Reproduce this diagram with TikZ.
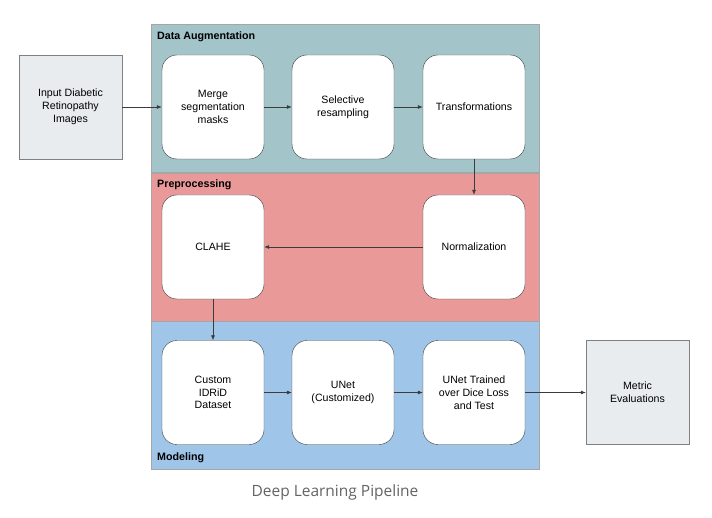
\documentclass[tikz,border=0pt]{standalone}
\usepackage{fontspec}
\setmainfont{Liberation Sans}
\newfontfamily\captionfont{Open Sans}
\usetikzlibrary{
  arrows.meta,
  positioning
}
\definecolor{augcol}{RGB}{163,196,201}
\definecolor{precol}{RGB}{234,153,153}
\definecolor{modcol}{RGB}{159,197,232}
\definecolor{iocol}{RGB}{232,236,238}
\definecolor{edgecol}{RGB}{60,60,60}
\definecolor{capcol}{RGB}{100,100,100}

\begin{document}
\begin{tikzpicture}[
  x=1pt, y=-1pt,
  band/.style={
    draw=gray!70,
    line width=0.8pt,
    rectangle,
    minimum width=388pt,
    minimum height=148pt,
    inner sep=0pt
  },
  bandlabel/.style={
    font=\fontsize{10.7}{12}\selectfont\bfseries,
    inner sep=0pt
  },
  stage/.style={
    draw=edgecol,
    fill=white,
    rectangle,
    rounded corners=15pt,
    minimum width=102pt,
    minimum height=104pt,
    align=center,
    font=\fontsize{10.6}{12.8}\selectfont,
    inner sep=0pt
  },
  io/.style={
    draw=gray,
    fill=iocol,
    rectangle,
    minimum width=103pt,
    minimum height=104pt,
    align=center,
    font=\fontsize{10.6}{12.8}\selectfont,
    inner sep=0pt
  },
  flow/.style={
    ->,
    draw=edgecol,
    line width=0.6pt
  },
  >={Latex[length=5pt,width=4pt]}
]

\useasboundingbox[fill=white] (0,0) rectangle (712,518);

% Bands
\node[band, fill=augcol] (aug) at (345,98.5) {};
\node[band, fill=precol] (pre) at (345,247) {};
\node[band, fill=modcol] (mod) at (345,395) {};
\node[bandlabel, anchor=west] (auglbl) at (157,37) {Data Augmentation};
\node[bandlabel, anchor=west] (prelbl) at (157,185) {Preprocessing};
\node[bandlabel, anchor=west] (modlbl) at (157,458) {Modeling};

% Outer boxes
\node[io] (input) at (70.5,107) {Input Diabetic\\Retinopathy\\Images};
\node[io] (metric) at (637.5,392.5) {Metric\\Evaluations};

% Data augmentation
\node[stage] (merge) at (213,107) {Merge\\segmentation\\masks};
\node[stage] (resample) at (343,107) {Selective\\resampling};
\node[stage] (transform) at (474,107) {Transformations};

% Preprocessing
\node[stage] (clahe) at (213,247) {CLAHE};
\node[stage] (norm) at (474,247) {Normalization};

% Modeling
\node[stage] (idrid) at (213,392.5) {Custom\\IDRiD\\Dataset};
\node[stage] (unet) at (343,392.5) {UNet\\(Customized)};
\node[stage] (trained) at (474,392.5) {UNet Trained\\over Dice Loss\\and Test};

% Arrows
\draw[flow] (input) -- (merge);
\draw[flow] (merge) -- (resample);
\draw[flow] (resample) -- (transform);
\draw[flow] (transform) -- (norm);
\draw[flow] (norm) -- (clahe);
\draw[flow] (clahe) -- (idrid);
\draw[flow] (idrid) -- (unet);
\draw[flow] (unet) -- (trained);
\draw[flow] (trained) -- (metric);

% Caption
\node[font=\captionfont\fontsize{15.5}{18}\selectfont, text=capcol] (caption) at (335,492) {Deep Learning Pipeline};

\end{tikzpicture}
\end{document}
